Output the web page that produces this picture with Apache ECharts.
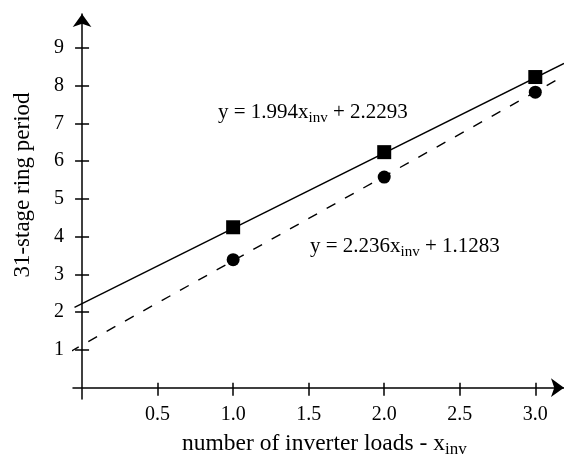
<!DOCTYPE html>
<html>
<head>
<meta charset="utf-8">
<script src="https://cdn.jsdelivr.net/npm/echarts@6/dist/echarts.min.js"></script>
<style>
  html, body { margin: 0; padding: 0; background: #fff; }
  #chart { width: 564px; height: 459px; }
</style>
</head>
<body>
<div id="chart"></div>
<script>
// measured points
const loads = [1, 2, 3]
const periodSquare = [4.25, 6.24, 8.23]
const periodCircle = [3.39, 5.58, 7.83]

// fit line end points
const fitSolid = [[-0.05, 2.13], [3.19, 8.59]]
const fitDashed = [[-0.08, 0.95], [3.15, 8.17]]

const xTicks = [0.5, 1.0, 1.5, 2.0, 2.5, 3.0]
const xTickLabels = ['0.5', '1.0', '1.5', '2.0', '2.5', '3.0']
const yTicks = [1, 2, 3, 4, 5, 6, 7, 8, 9]

const eqSolid = ['y = 1.994x', 'inv', ' + 2.2293']
const eqDashed = ['y = 2.236x', 'inv', ' + 1.1283']
const xName = ['number of inverter loads - x', 'inv']
const yName = '31-stage ring period'

const font = '"Liberation Serif", "DejaVu Serif", serif'

const chart = echarts.init(document.getElementById('chart'))

const richEq = {
  n: { fontFamily: font, fontSize: 21, color: '#000' },
  s: { fontFamily: font, fontSize: 15, color: '#000', padding: [11, 0, 0, 0] },
}

function subText(parts) {
  return '{n|' + parts[0] + '}{s|' + parts[1] + '}' + (parts[2] ? '{n|' + parts[2] + '}' : '')
}

const xRange = { min: -0.06, max: 3.19 }
const yRange = { min: -0.3, max: 9.9 }
const black = { color: '#000', width: 1.5 }

chart.setOption({
  animation: false,
  backgroundColor: '#fff',
  grid: { left: 73, right: 0, top: 14, bottom: 60 },
  xAxis: [
    {
      type: 'value', ...xRange,
      splitLine: { show: false },
      axisLine: { onZero: true, symbol: ['none', 'arrow'], symbolSize: [14, 13], lineStyle: black },
      axisTick: { show: true, inside: false, length: 8, customValues: xTicks, lineStyle: black },
      axisLabel: {
        customValues: xTicks, margin: 6, color: '#000', fontFamily: font, fontSize: 20,
        formatter: v => xTickLabels[xTicks.indexOf(v)] ?? v
      },
    },
    {
      type: 'value', ...xRange, position: 'bottom',
      splitLine: { show: false },
      axisLine: { show: false, onZero: true },
      axisTick: { show: true, inside: true, length: 5, customValues: xTicks, lineStyle: black },
      axisLabel: { show: false },
    },
  ],
  yAxis: [
    {
      type: 'value', ...yRange,
      splitLine: { show: false },
      axisLine: { onZero: true, symbol: ['none', 'arrow'], symbolSize: [14, 13], lineStyle: black },
      axisTick: { show: true, inside: false, length: 7, customValues: yTicks, lineStyle: black },
      axisLabel: { customValues: yTicks, margin: 9, color: '#000', fontFamily: font, fontSize: 20 },
    },
    {
      type: 'value', ...yRange, position: 'left',
      splitLine: { show: false },
      axisLine: { show: false, onZero: true },
      axisTick: { show: true, inside: true, length: 7, customValues: yTicks, lineStyle: black },
      axisLabel: { show: false },
    },
  ],
  graphic: [
    { type: 'text', left: 218, top: 102, style: { text: subText(eqSolid), rich: richEq } },
    { type: 'text', left: 310, top: 236, style: { text: subText(eqDashed), rich: richEq } },
    { type: 'text', left: 182, top: 432, style: { text: subText(xName), rich: {
      n: { fontFamily: font, fontSize: 23.5, color: '#000' },
      s: { fontFamily: font, fontSize: 17, color: '#000', padding: [12, 0, 0, 0] },
    } } },
    { type: 'text', x: 23, y: 185, rotation: Math.PI / 2, style: {
      text: yName, fontFamily: font, fontSize: 23, fill: '#000', align: 'center', verticalAlign: 'middle'
    } },
  ],
  series: [
    {
      type: 'line', data: fitSolid, symbol: 'none', silent: true,
      lineStyle: { color: '#000', width: 1.4 },
    },
    {
      type: 'line', data: fitDashed, symbol: 'none', silent: true,
      lineStyle: { color: '#000', width: 1.4, type: [10, 11] },
    },
    {
      type: 'scatter', data: loads.map((x, i) => [x, periodSquare[i]]),
      symbol: 'rect', symbolSize: 14, itemStyle: { color: '#000', opacity: 1 },
    },
    {
      type: 'scatter', data: loads.map((x, i) => [x, periodCircle[i]]),
      symbol: 'circle', symbolSize: 13, itemStyle: { color: '#000', opacity: 1 },
    },
  ],
})
</script>
</body>
</html>
